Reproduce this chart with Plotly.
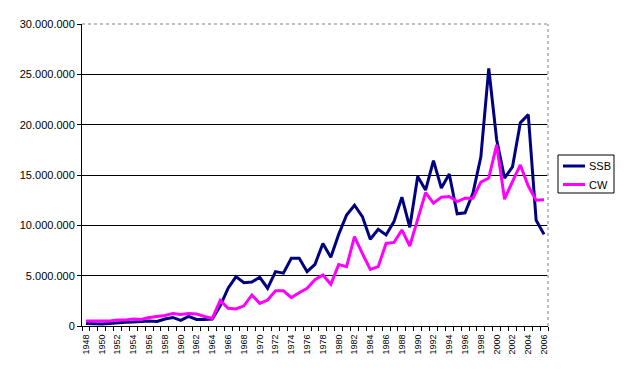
import plotly.graph_objects as go

years = [1948, 1949, 1950, 1951, 1952, 1953, 1954, 1955, 1956, 1957,
         1958, 1959, 1960, 1961, 1962, 1963, 1964, 1965, 1966, 1967,
         1968, 1969, 1970, 1971, 1972, 1973, 1974, 1975, 1976, 1977,
         1978, 1979, 1980, 1981, 1982, 1983, 1984, 1985, 1986, 1987,
         1988, 1989, 1990, 1991, 1992, 1993, 1994, 1995, 1996, 1997,
         1998, 1999, 2000, 2001, 2002, 2003, 2004, 2005, 2006]

ssb_millions = [0.25, 0.2, 0.2, 0.25, 0.35, 0.38, 0.4, 0.45, 0.5, 0.45,
                0.7, 0.85, 0.55, 0.95, 0.65, 0.65, 0.7, 2.0, 3.75, 4.9,
                4.3, 4.37, 4.84, 3.75, 5.4, 5.25, 6.73, 6.73, 5.4, 6.13,
                8.2, 6.83, 9.1, 11.03, 12.0, 10.87, 8.62, 9.6, 9.05, 10.37,
                12.8, 9.8, 14.85, 13.5, 16.43, 13.7, 15.1, 11.15, 11.25, 13.2,
                16.8, 25.6, 18.5, 14.7, 15.8, 20.2, 21.0, 10.5, 9.1]

cw_millions = [0.5, 0.5, 0.5, 0.5, 0.6, 0.6, 0.7, 0.65, 0.85, 0.95,
               1.05, 1.25, 1.15, 1.25, 1.2, 0.95, 0.75, 2.55, 1.76, 1.7,
               2.0, 3.08, 2.25, 2.58, 3.5, 3.5, 2.82, 3.31, 3.75, 4.6,
               5.07, 4.14, 6.1, 5.9, 8.88, 7.2, 5.63, 5.9, 8.2, 8.3,
               9.54, 7.95, 10.54, 13.25, 12.2, 12.8, 12.86, 12.36, 12.7, 12.7,
               14.3, 14.7, 18.0, 12.6, 14.35, 16.0, 13.9, 12.5, 12.55]

series_names = ["SSB", "CW"]
series_colors = ["#000080", "#FF00FF"]

y_tickvals = [0, 5000000, 10000000, 15000000, 20000000, 25000000, 30000000]
x_label_years = years[::2]

ssb = [v * 1e6 for v in ssb_millions]
cw = [v * 1e6 for v in cw_millions]

FONT = "Arial, Liberation Sans, sans-serif"

# the page body adds an 8px margin, so the figure is drawn 8px smaller
OFF = 8
W, H = 624 - OFF, 370 - OFF
# plot-area edges in page pixels
L, R, T, B = 82, 548, 24, 326


def px_x(p):
    return (p - L) / (R - L)


def px_y(p):
    return (B - p) / (B - T)


fig = go.Figure()
for name, vals, col in zip(series_names, [ssb, cw], series_colors):
    fig.add_trace(go.Scatter(x=years, y=vals, mode="lines", name=name,
                             line=dict(color=col, width=3),
                             showlegend=False))

fig.update_layout(
    width=W, height=H,
    margin=dict(l=L - OFF, r=W - (R - OFF), t=T - OFF, b=H - (B - OFF),
                pad=0, autoexpand=False),
    paper_bgcolor="white", plot_bgcolor="white",
    separators=",.",
    font=dict(family=FONT, color="black"),
    xaxis=dict(
        range=[years[0] - 0.5, years[-1] + 0.5],
        automargin=False,
        tickmode="array", tickvals=x_label_years,
        ticktext=[str(y) for y in x_label_years],
        tickangle=-90, tickfont=dict(size=9, family=FONT),
        ticks="outside", ticklen=4, tickcolor="rgba(0,0,0,0)",
        showgrid=False, zeroline=False,
        showline=True, linecolor="black", linewidth=1,
        minor=dict(ticks="outside", ticklen=4, tickcolor="black",
                   tick0=years[0] - 0.5, dtick=1, showgrid=False),
    ),
    yaxis=dict(
        range=[0, 30000000],
        automargin=False,
        tickmode="array", tickvals=y_tickvals, tickformat=",d",
        tickfont=dict(size=11, family=FONT),
        ticks="outside", ticklen=4, tickcolor="black",
        showgrid=True, gridcolor="black", gridwidth=1,
        zeroline=False,
        showline=True, linecolor="black", linewidth=1,
    ),
)

# plot-area border (top and right), dotted grey as in the original
for x0, y0, x1, y1 in [(0, 1, 1, 1), (1, 0, 1, 1)]:
    fig.add_shape(type="line", xref="paper", yref="paper",
                  x0=x0, y0=y0, x1=x1, y1=y1,
                  line=dict(color="white", width=1.5), layer="above")
    fig.add_shape(type="line", xref="paper", yref="paper",
                  x0=x0, y0=y0, x1=x1, y1=y1,
                  line=dict(color="#808080", width=1, dash="dot"), layer="above")

# legend box
fig.add_shape(type="rect", xref="paper", yref="paper",
              x0=px_x(558), x1=px_x(614), y0=px_y(193), y1=px_y(155),
              line=dict(color="black", width=1), fillcolor="white", layer="above")
for i, (name, col) in enumerate(zip(series_names, series_colors)):
    yy = 166 + i * 18.5
    fig.add_shape(type="line", xref="paper", yref="paper",
                  x0=px_x(563), x1=px_x(585), y0=px_y(yy), y1=px_y(yy),
                  line=dict(color=col, width=3), layer="above")
    fig.add_annotation(xref="paper", yref="paper", x=px_x(587), y=px_y(yy),
                       text=name, showarrow=False, xanchor="left", yanchor="middle",
                       font=dict(size=11, family=FONT, color="black"))

fig.write_html("out.html")
